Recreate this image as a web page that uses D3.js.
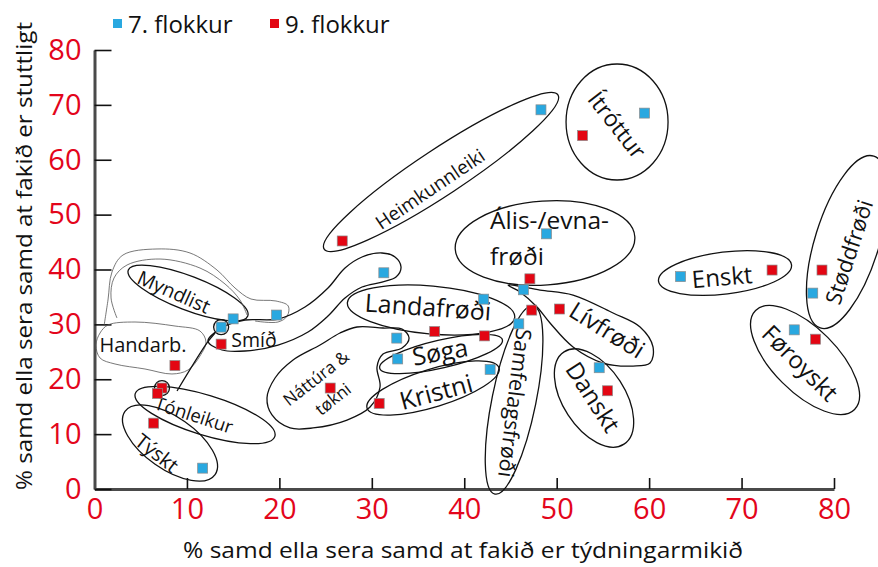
<!DOCTYPE html>
<html lang="fo">
<head>
  <meta charset="UTF-8">
  <title>Stuttligt og týdningarmikið – fak</title>
  <script src="https://d3js.org/d3.v7.min.js"></script>
  <style>
    body {
      margin: 0;
      background: #fff;
    }

    svg {
      display: block;
      font-family: "Open Sans", sans-serif;
    }

    .axis .domain {
      stroke: #4a4a4a;
      stroke-width: 3;
    }

    .axis .tick line {
      stroke: #111;
      stroke-width: 1.6;
    }

    .axis .tick text {
      fill: #e3051b;
      font-size: 29px;
    }

    .outline {
      fill: none;
      stroke: #111;
      stroke-width: 1.3;
    }

    .outline.thin {
      stroke: #555;
      stroke-width: 0.8;
    }

    .label {
      fill: #111;
    }
  </style>
</head>
<body>

<svg width="878" height="567"></svg>

<script>
  // values (percent)
  const subjects = ["Týskt", "Tónleikur", "Handarb.", "Myndlist", "Smíð", "Náttúra & tøkni",
    "Heimkunnleiki", "Kristni", "Søga", "Landafrøði", "Samfelagsfrøði", "Ális-/evnafrøði",
    "Lívfrøði", "Danskt", "Ítróttur", "Enskt", "Føroyskt", "Støddfrøði"];

  const grade7X = [11.7, 13.7, 19.7, 15.0, 31.3, 32.7, 48.3, 42.8, 32.8, 42.1, 45.9, 48.9, 46.4, 54.6, 59.5, 63.4, 75.7, 77.7];
  const grade7Y = [3.8, 29.5, 31.7, 31.0, 39.4, 27.5, 69.1, 21.8, 23.7, 34.6, 30.1, 46.5, 36.3, 22.1, 68.5, 38.7, 29.0, 35.7];
  const grade9X = [6.4, 7.3, 8.7, 6.8, 13.7, 25.5, 26.8, 30.8, 42.2, 36.8, 47.3, 47.1, 50.3, 55.5, 52.8, 73.3, 78.0, 78.7];
  const grade9Y = [12.0, 18.4, 22.5, 17.4, 26.4, 18.4, 45.2, 15.6, 27.9, 28.7, 32.6, 38.3, 32.8, 17.9, 64.4, 39.9, 27.3, 39.9];

  const xTicks = [0, 10, 20, 30, 40, 50, 60, 70, 80];
  const yTicks = [0, 10, 20, 30, 40, 50, 60, 70, 80];

  const seriesNames = ["7. flokkur", "9. flokkur"];
  const seriesColors = ["#29a8e0", "#e30613"];

  const xTitle = "% samd ella sera samd at fakið er týdningarmikið";
  const yTitle = "% samd ella sera samd at fakið er stuttligt";

  // grouping ellipses drawn round the subjects (centre in data units, radii in px)
  const groupEllipses = [
    { cx: 8.17, cy: 8.38, rx: 55, ry: 26, a: 35 },     // Týskt
    { cx: 11.96, cy: 13.49, rx: 73, ry: 20, a: 17 },   // Tónleikur
    { cx: 10.12, cy: 35.72, rx: 64, ry: 17, a: 21 },   // Myndlist
    { cx: 37.49, cy: 57.77, rx: 140, ry: 23, a: -33.4 }, // Heimkunnleiki
    { cx: 56.53, cy: 66.88, rx: 51, ry: 58, a: 0 },    // Ítróttur
    { cx: 48.74, cy: 44.83, rx: 90, ry: 42, a: -4 },   // Ális-/evnafrøði
    { cx: 36.41, cy: 32.62, rx: 84, ry: 24, a: 5 },    // Landafrøði
    { cx: 37.49, cy: 24.60, rx: 63, ry: 14, a: -13 },  // Søga
    { cx: 36.62, cy: 18.41, rx: 69, ry: 19, a: -17 },  // Kristni
    { cx: 45.39, cy: 16.22, rx: 96, ry: 22, a: 101.5 }, // Samfelagsfrøði
    { cx: 54.04, cy: 16.58, rx: 55, ry: 31, a: 57 },   // Danskt
    { cx: 68.21, cy: 39.36, rx: 67, ry: 21, a: -7 },   // Enskt
    { cx: 81.41, cy: 45.01, rx: 90, ry: 32, a: -72.7 }, // Støddfrøði
    { cx: 76.87, cy: 23.51, rx: 70, ry: 32, a: 45 }    // Føroyskt
  ];

  // free-hand outlines (data units)
  const groupPaths = [
    { thin: true, closed: true, pts: [[0.60, 28.43], [1.46, 29.89], [4.38, 30.43], [8.71, 29.70], [11.41, 28.79],
      [12.06, 26.79], [11.41, 24.24], [10.12, 21.69], [8.38, 20.96], [5.46, 21.87], [2.22, 22.78],
      [0.60, 23.87], [0.16, 26.24]] },
    { thin: true, closed: false, pts: [[1.03, 29.70], [1.46, 34.44], [1.89, 39.54], [3.08, 42.64], [6.76, 43.74],
      [10.33, 43.01], [13.25, 39.91], [15.20, 36.63], [16.93, 34.62], [19.63, 34.26], [20.96, 33.35],
      [20.85, 31.53], [19.85, 30.43], [17.37, 30.61]] },
    { thin: true, closed: false, pts: [[2.43, 31.16], [1.79, 34.81], [2.11, 38.45], [3.52, 40.82], [7.09, 41.91],
      [11.41, 40.27], [14.12, 37.36], [15.74, 34.44], [16.50, 31.71]] },
    { thin: false, closed: true, pts: [[12.28, 26.97], [14.12, 29.70], [16.28, 30.80], [19.85, 30.98], [22.77, 33.17],
      [25.26, 36.63], [27.10, 40.27], [28.94, 42.28], [31.10, 43.01], [32.51, 42.28], [33.16, 40.46],
      [32.62, 38.63], [31.10, 37.72], [28.94, 36.81], [27.10, 34.81], [25.26, 31.53], [23.10, 28.61],
      [19.85, 26.24], [16.28, 25.15], [13.79, 25.33]] },
    { thin: false, closed: false, pts: [[8.93, 17.86], [12.17, 26.61], [13.04, 28.43]] },
    { thin: false, closed: true, pts: [[28.40, 29.52], [31.21, 29.34], [33.27, 29.16], [34.03, 27.52], [33.27, 25.69],
      [31.21, 24.60], [30.56, 22.23], [30.89, 18.59], [29.81, 14.94], [27.32, 12.57], [23.64, 11.12],
      [21.15, 11.12], [19.20, 13.49], [18.66, 16.58], [19.53, 20.23], [21.48, 23.51], [24.40, 26.24],
      [26.56, 28.43]] },
    { thin: false, closed: true, pts: [[44.74, 37.17], [48.20, 36.26], [51.77, 35.35], [56.10, 32.07], [59.02, 29.52],
      [60.42, 25.88], [60.10, 22.96], [58.26, 22.41], [55.01, 22.96], [51.77, 25.88], [49.28, 30.25],
      [47.87, 33.17], [46.04, 35.90]] }
  ];

  // subjects whose points are ringed
  const ringed = ["Tónleikur"];

  // subject labels (data units, rotation, font size)
  const labels = [
    { t: "Týskt", x: 6.76, y: 6.56, r: 38, s: 20 },
    { t: "Tónleikur", x: 10.76, y: 13.49, r: 18, s: 18.5 },
    { t: "Myndlist", x: 8.60, y: 35.90, r: 24, s: 19.5 },
    { t: "Handarb.", x: 5.25, y: 26.24, r: 0, s: 20 },
    { t: "Smíð", x: 17.26, y: 27.15, r: 0, s: 19.5 },
    { t: "Heimkunnleiki", x: 36.30, y: 54.67, r: -34, s: 19 },
    { t: "Ítróttur", x: 56.53, y: 66.33, r: 52, s: 23 },
    { t: "Landafrøði", x: 36.08, y: 33.17, r: 4, s: 25 },
    { t: "Søga", x: 37.38, y: 24.97, r: -10, s: 25 },
    { t: "Kristni", x: 36.95, y: 17.68, r: -15, s: 25 },
    { t: "Náttúra &", x: 23.96, y: 20.23, r: -38, s: 17 },
    { t: "tøkni", x: 25.80, y: 16.40, r: -38, s: 17 },
    { t: "Samfelagsfrøði", x: 45.49, y: 15.67, r: 97, s: 21.5 },
    { t: "Lívfrøði", x: 55.45, y: 28.97, r: 32, s: 24 },
    { t: "Danskt", x: 53.93, y: 16.77, r: 57, s: 24 },
    { t: "Enskt", x: 67.89, y: 38.63, r: -5, s: 24 },
    { t: "Støddfrøði", x: 81.63, y: 43.19, r: -72, s: 22 },
    { t: "Føroyskt", x: 76.33, y: 22.96, r: 45, s: 24 }
  ];
  const leftLabels = [
    { t: "Ális-/evna-", x: 42.79, y: 49.02, s: 24.5 },
    { t: "frøði", x: 42.79, y: 42.46, s: 24.5 }
  ];

  const svg = d3.select("svg");

  const x = d3.scaleLinear().domain([0, 80]).range([94.5, 834]);
  const y = d3.scaleLinear().domain([0, 80]).range([489, 50]);

  // axes
  svg.append("g")
          .attr("class", "axis")
          .attr("transform", `translate(0,${y(0)})`)
          .call(d3.axisBottom(x).tickValues(xTicks).tickSizeInner(-11).tickSizeOuter(0).tickPadding(9));

  svg.append("g")
          .attr("class", "axis")
          .attr("transform", `translate(${x(0)},0)`)
          .call(d3.axisLeft(y).tickValues(yTicks).tickSizeInner(-17).tickSizeOuter(0).tickPadding(13));

  svg.selectAll(".axis").attr("font-size", null).attr("font-family", null);

  // axis titles
  svg.append("text")
          .attr("x", 463)
          .attr("y", 558)
          .attr("text-anchor", "middle")
          .attr("font-size", 21)
          .attr("textLength", 560)
          .attr("lengthAdjust", "spacingAndGlyphs")
          .attr("fill", "#111")
          .text(xTitle);

  svg.append("text")
          .attr("transform", "translate(32,256) rotate(-90)")
          .attr("text-anchor", "middle")
          .attr("font-size", 21)
          .attr("textLength", 468)
          .attr("lengthAdjust", "spacingAndGlyphs")
          .attr("fill", "#111")
          .text(yTitle);

  // legend
  const legend = svg.append("g")
          .selectAll("g")
          .data(seriesNames)
          .join("g")
          .attr("transform", (d, i) => `translate(${113 + i * 157},18)`);

  legend.append("rect")
          .attr("width", 9)
          .attr("height", 9)
          .attr("y", 1)
          .attr("fill", (d, i) => seriesColors[i]);

  legend.append("text")
          .attr("x", 15)
          .attr("y", 15)
          .attr("font-size", 24)
          .attr("fill", "#111")
          .text(d => d);

  // outlines
  const outlines = svg.append("g");

  outlines.selectAll("ellipse")
          .data(groupEllipses)
          .join("ellipse")
          .attr("class", "outline")
          .attr("cx", d => x(d.cx))
          .attr("cy", d => y(d.cy))
          .attr("rx", d => d.rx)
          .attr("ry", d => d.ry)
          .attr("transform", d => `rotate(${d.a},${x(d.cx)},${y(d.cy)})`);

  outlines.selectAll("path")
          .data(groupPaths)
          .join("path")
          .attr("class", d => d.thin ? "outline thin" : "outline")
          .attr("d", d => d3.line()
                  .x(p => x(p[0]))
                  .y(p => y(p[1]))
                  .curve(d.closed ? d3.curveCatmullRomClosed : d3.curveCatmullRom)(d.pts));

  // labels
  svg.append("g")
          .selectAll("text")
          .data(labels)
          .join("text")
          .attr("class", "label")
          .attr("transform", d => `translate(${x(d.x)},${y(d.y)}) rotate(${d.r})`)
          .attr("text-anchor", "middle")
          .attr("dy", "0.36em")
          .attr("font-size", d => d.s)
          .text(d => d.t);

  svg.append("g")
          .selectAll("text")
          .data(leftLabels)
          .join("text")
          .attr("class", "label")
          .attr("x", d => x(d.x))
          .attr("y", d => y(d.y))
          .attr("dy", "0.36em")
          .attr("font-size", d => d.s)
          .text(d => d.t);

  // points
  const points = subjects.flatMap((s, i) => [
    { s, g: 0, vx: grade7X[i], vy: grade7Y[i] },
    { s, g: 1, vx: grade9X[i], vy: grade9Y[i] }
  ]);

  svg.append("g")
          .selectAll("circle")
          .data(points.filter(p => ringed.includes(p.s)))
          .join("circle")
          .attr("cx", d => x(d.vx))
          .attr("cy", d => y(d.vy))
          .attr("r", 7.5)
          .attr("fill", "none")
          .attr("stroke", "#111")
          .attr("stroke-width", 1.3);

  svg.append("g")
          .selectAll("rect")
          .data(points)
          .join("rect")
          .attr("x", d => x(d.vx) - 5)
          .attr("y", d => y(d.vy) - 5)
          .attr("width", 10)
          .attr("height", 10)
          .attr("fill", d => seriesColors[d.g])
          .attr("stroke", "#8c8c8c")
          .attr("stroke-width", 0.7)
          .append("title")
          .text(d => `${d.s} (${seriesNames[d.g]}): ${d.vx}, ${d.vy}`);
</script>
</body>
</html>
